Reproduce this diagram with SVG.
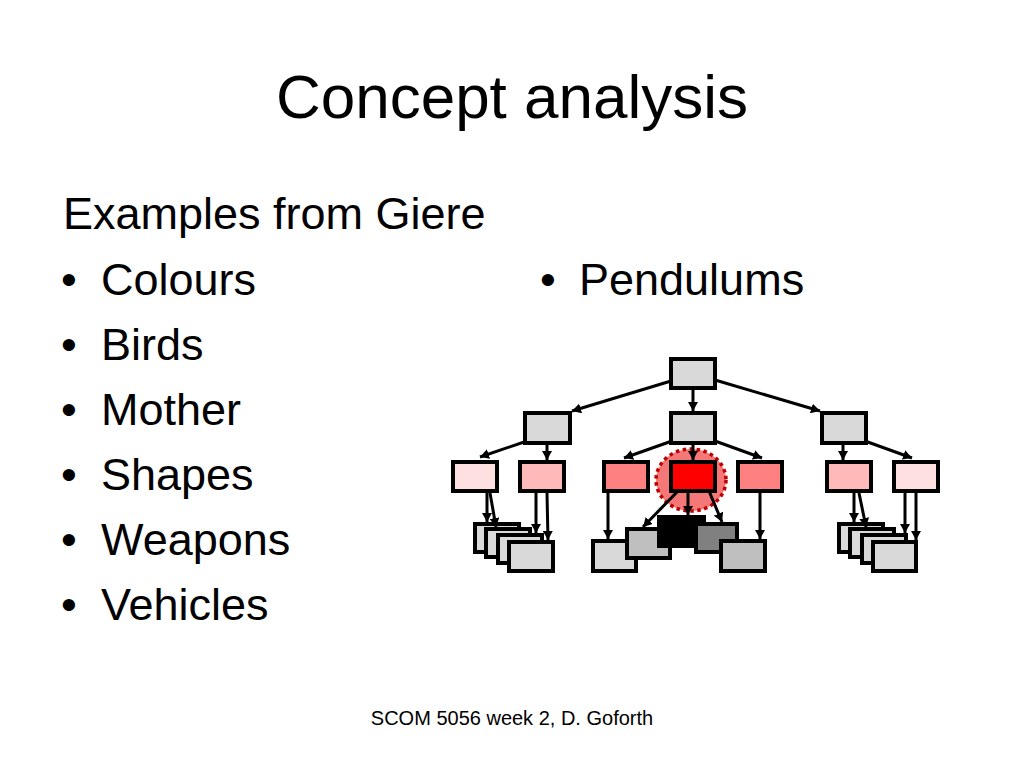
<svg xmlns="http://www.w3.org/2000/svg" width="1024" height="768" viewBox="0 0 1024 768">
<style>
text{font-family:"Liberation Sans",Arial,sans-serif;fill:#000}
.t{font-size:62px}
.b{font-size:45px}
.f{font-size:20px}
.n rect{stroke:#000;stroke-width:4}
.lg{fill:#D9D9D9}
.g{fill:#BFBFBF}
.dg{fill:#808080}
.bk{fill:#000}
.p1{fill:#FFE0E0}
.p2{fill:#FFB9B9}
.p3{fill:#FF8080}
.rd{fill:#FF0000}
#connectors line{stroke:#000;stroke-width:3;marker-end:url(#ah)}
</style>
<defs>
<marker id="ah" viewBox="0 0 10 10" refX="10" refY="5" markerWidth="9" markerHeight="10" markerUnits="userSpaceOnUse" orient="auto" preserveAspectRatio="none">
<path d="M0,0 L10,5 L0,10 Z" fill="#000"/>
</marker>
</defs>
<rect width="1024" height="768" fill="#fff"/>
<g id="texts">
<text class="t" x="512" y="118" text-anchor="middle">Concept analysis</text>
<text class="b" x="63" y="229">Examples from Giere</text>
<text class="b" x="61" y="295">•</text><text class="b" x="101" y="295">Colours</text>
<text class="b" x="61" y="360">•</text><text class="b" x="101" y="360">Birds</text>
<text class="b" x="61" y="425">•</text><text class="b" x="101" y="425">Mother</text>
<text class="b" x="61" y="490">•</text><text class="b" x="101" y="490">Shapes</text>
<text class="b" x="61" y="555">•</text><text class="b" x="101" y="555">Weapons</text>
<text class="b" x="61" y="620">•</text><text class="b" x="101" y="620">Vehicles</text>
<text class="b" x="540" y="295">•</text><text class="b" x="579" y="295">Pendulums</text>
<text class="f" x="512" y="725" text-anchor="middle">SCOM 5056 week 2, D. Goforth</text>
</g>
<g id="highlight">
<ellipse cx="691" cy="480" rx="35" ry="31" fill="#F57878" stroke="#C00000" stroke-width="3.5" stroke-dasharray="3.5 3.5"/>
</g>
<g class="n">
<g id="n-root"><rect class="lg" x="671" y="359" width="44" height="29"/></g>
<g id="n-l2a"><rect class="lg" x="525" y="413" width="45" height="30"/></g>
<g id="n-l2b"><rect class="lg" x="671" y="413" width="44" height="30"/></g>
<g id="n-l2c"><rect class="lg" x="822" y="413" width="44" height="30"/></g>
<g id="n-l3a"><rect class="p1" x="453" y="462" width="44" height="29"/></g>
<g id="n-l3b"><rect class="p2" x="520" y="462" width="44" height="29"/></g>
<g id="n-l3c"><rect class="p3" x="604" y="462" width="44" height="29"/></g>
<g id="n-l3d"><rect class="rd" x="671" y="462" width="44" height="29"/></g>
<g id="n-l3e"><rect class="p3" x="738" y="462" width="44" height="29"/></g>
<g id="n-l3f"><rect class="p2" x="827" y="462" width="44" height="29"/></g>
<g id="n-l3g"><rect class="p1" x="894" y="462" width="44" height="29"/></g>
<g id="n-s1a"><rect class="lg" x="475" y="524" width="44" height="28"/></g>
<g id="n-s1b"><rect class="lg" x="486" y="529" width="44" height="28"/></g>
<g id="n-s1c"><rect class="lg" x="498" y="535" width="44" height="28"/></g>
<g id="n-s1d"><rect class="lg" x="509" y="542" width="44" height="29"/></g>
<g id="n-m1"><rect class="lg" x="593" y="541" width="43" height="30"/></g>
<g id="n-m2"><rect class="g" x="627" y="529" width="43" height="29"/></g>
<g id="n-m3"><rect class="bk" x="659" y="517" width="45" height="29"/></g>
<g id="n-m4"><rect class="dg" x="696" y="524" width="41" height="28"/></g>
<g id="n-m5"><rect class="g" x="721" y="541" width="44" height="30"/></g>
<g id="n-s2a"><rect class="lg" x="839" y="524" width="44" height="28"/></g>
<g id="n-s2b"><rect class="lg" x="850" y="529" width="44" height="28"/></g>
<g id="n-s2c"><rect class="lg" x="862" y="535" width="44" height="28"/></g>
<g id="n-s2d"><rect class="lg" x="873" y="542" width="43" height="29"/></g>
</g>
<g id="connectors">
<line x1="671" y1="381" x2="572" y2="411"/>
<line x1="693" y1="389" x2="693" y2="411"/>
<line x1="715" y1="380" x2="820" y2="411"/>
<line x1="527" y1="441" x2="480" y2="457"/>
<line x1="547" y1="445" x2="547" y2="460"/>
<line x1="672" y1="441" x2="624" y2="458"/>
<line x1="693" y1="445" x2="693" y2="460"/>
<line x1="715" y1="441" x2="762" y2="458"/>
<line x1="843" y1="445" x2="843" y2="460"/>
<line x1="865" y1="441" x2="912" y2="458"/>
<line x1="487" y1="493" x2="487" y2="522"/>
<line x1="490" y1="493" x2="496" y2="527"/>
<line x1="536" y1="493" x2="536" y2="533"/>
<line x1="547" y1="493" x2="548" y2="540"/>
<line x1="608" y1="493" x2="608" y2="539"/>
<line x1="678" y1="491" x2="643" y2="527"/>
<line x1="688" y1="493" x2="688" y2="515"/>
<line x1="709" y1="491" x2="722" y2="522"/>
<line x1="760" y1="493" x2="760" y2="539"/>
<line x1="854" y1="493" x2="854" y2="522"/>
<line x1="859" y1="493" x2="866" y2="527"/>
<line x1="905" y1="493" x2="905" y2="533"/>
<line x1="916" y1="493" x2="916" y2="540"/>
</g>
</svg>
